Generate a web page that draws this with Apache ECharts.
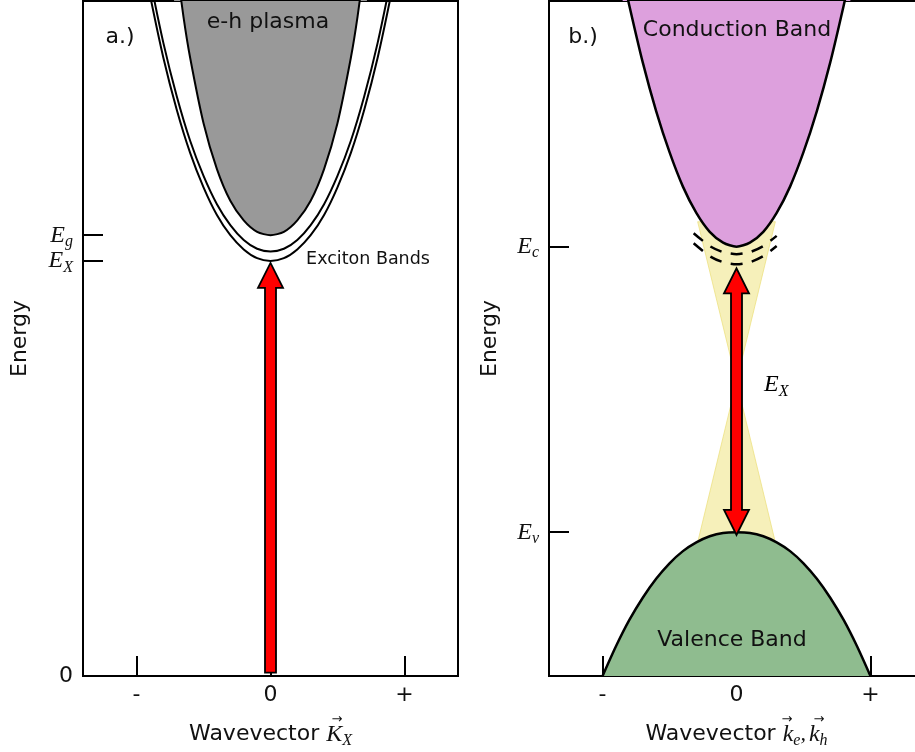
<!DOCTYPE html>
<html><head><meta charset="utf-8">
<script src="https://cdn.jsdelivr.net/npm/echarts@6/dist/echarts.min.js"></script>
<style>html,body{margin:0;padding:0;background:#fff}#c{width:915px;height:752px}</style>
</head><body><div id="c"></div>
<script>
// ---- tick values / labels ----
const kTicks = [-1, 0, 1];
const kTickLabels = ['-', '0', '+'];
const leftYTicks = [0, 6.15];
const leftYTickLabels = ['0', '{e|E}{s|X}'];
const gapTicks = [6.53];
const gapTickLabels = ['{e|E}{s|g}'];
const rightYTicks = [2.13, 6.36];
const rightYTickLabels = ['{e|E}{s|v}', '{e|E}{s|c}'];

// ---- panel a) curves [k, E] ----
const plasmaCurve = [[-0.72,10.80],[-0.65,9.77],[-0.6,9.16],[-0.5,8.19],[-0.4,7.51],[-0.3,7.04],[-0.2,6.75],[-0.1,6.58],[0,6.53],[0.1,6.58],[0.2,6.75],[0.3,7.04],[0.4,7.51],[0.5,8.19],[0.6,9.16],[0.65,9.77],[0.72,10.80]];
const excitonBand1 = [[-0.95,10.87],[-0.9,10.33],[-0.8,9.38],[-0.7,8.59],[-0.6,7.93],[-0.5,7.41],[-0.4,6.99],[-0.3,6.68],[-0.2,6.46],[-0.1,6.33],[0,6.29],[0.1,6.33],[0.2,6.46],[0.3,6.68],[0.4,6.99],[0.5,7.41],[0.6,7.93],[0.7,8.59],[0.8,9.38],[0.9,10.33],[0.95,10.87]];
const excitonBand2 = [[-0.95,10.62],[-0.9,10.09],[-0.8,9.16],[-0.7,8.39],[-0.6,7.75],[-0.5,7.24],[-0.4,6.83],[-0.3,6.53],[-0.2,6.32],[-0.1,6.19],[0,6.15],[0.1,6.19],[0.2,6.32],[0.3,6.53],[0.4,6.83],[0.5,7.24],[0.6,7.75],[0.7,8.39],[0.8,9.16],[0.9,10.09],[0.95,10.62]];
const arrowA = [[0, 0.05, 6.12]];

// ---- panel b) curves [k, E] ----
const conductionBand = [[-0.85,10.39],[-0.8,9.93],[-0.7,9.09],[-0.6,8.37],[-0.5,7.76],[-0.4,7.25],[-0.3,6.86],[-0.2,6.58],[-0.1,6.42],[0,6.36],[0.1,6.42],[0.2,6.58],[0.3,6.86],[0.4,7.25],[0.5,7.76],[0.6,8.37],[0.7,9.09],[0.8,9.93],[0.85,10.39]];
const valenceBand = [[-1,0],[-0.9,0.44],[-0.8,0.83],[-0.7,1.16],[-0.6,1.44],[-0.5,1.67],[-0.4,1.85],[-0.3,1.98],[-0.2,2.07],[-0.1,2.12],[0,2.13],[0.1,2.12],[0.2,2.07],[0.3,1.98],[0.4,1.85],[0.5,1.67],[0.6,1.44],[0.7,1.16],[0.8,0.83],[0.9,0.44],[1,0]];
const excitonLevel1 = [[-0.32,6.56],[-0.2,6.37],[-0.1,6.28],[0,6.25],[0.1,6.28],[0.2,6.37],[0.3,6.52]];
const excitonLevel2 = [[-0.32,6.41],[-0.2,6.22],[-0.1,6.13],[0,6.10],[0.1,6.13],[0.2,6.22],[0.3,6.37]];
const coneUpper = [-0.29,6.73, 0.29,6.73, 0,4.36];
const coneLower = [-0.29,1.98, 0.29,1.98, 0,4.36];
const arrowB = [[0, 2.09, 6.04]];

const sans = 'DejaVu Sans';
const serif = 'Liberation Serif';
const mathRich = {
  e: {fontFamily: serif, fontStyle: 'italic', fontSize: 24, color: '#111'},
  s: {fontFamily: serif, fontStyle: 'italic', fontSize: 16, color: '#111', padding: [13, 0, 0, 0]},
  t: {fontFamily: sans, fontSize: 22, color: '#111'},
  v: {fontFamily: serif, fontStyle: 'italic', fontSize: 24, color: '#111'},
  c: {fontFamily: serif, fontStyle: 'italic', fontSize: 22, color: '#111', padding: [0, 3, 0, 0]}
};

function pick(vals, labels) {
  return function (v) {
    for (let i = 0; i < vals.length; i++) if (Math.abs(vals[i] - v) < 1e-6) return labels[i];
    return '';
  };
}

function arrowRender(double) {
  return function (params, api) {
    const k = api.value(0), e0 = api.value(1), e1 = api.value(2);
    const p0 = api.coord([k, e0]), p1 = api.coord([k, e1]);
    const x = p0[0], yb = p0[1], yt = p1[1];
    const sw = 5.5, hw = 12.5, hl = 25;
    let pts;
    if (!double) {
      pts = [[x - sw, yb], [x - sw, yt + hl], [x - hw, yt + hl], [x, yt], [x + hw, yt + hl], [x + sw, yt + hl], [x + sw, yb]];
    } else {
      pts = [[x - sw, yb - hl], [x - sw, yt + hl], [x - hw, yt + hl], [x, yt], [x + hw, yt + hl], [x + sw, yt + hl], [x + sw, yb - hl], [x + hw, yb - hl], [x, yb], [x - hw, yb - hl]];
    }
    return {type: 'polygon', shape: {points: pts}, style: {fill: '#ff0000', stroke: '#000', lineWidth: 1.8}};
  };
}
function coneRender(params, api) {
  const pts = [];
  for (let i = 0; i < 3; i++) pts.push(api.coord([api.value(2 * i), api.value(2 * i + 1)]));
  return {type: 'polygon', shape: {points: pts}, style: {fill: 'rgba(240,230,140,0.6)', stroke: 'rgba(235,222,120,0.7)', lineWidth: 1}};
}

function xAxisDef(idx, name) {
  return {
    gridIndex: idx, type: 'value', min: -1.4, max: 1.4,
    axisLine: {show: true, onZero: false, lineStyle: {color: '#000', width: 2}},
    axisTick: {show: true, inside: true, length: 20, customValues: kTicks, lineStyle: {color: '#000', width: 2}},
    axisLabel: {show: true, hideOverlap: false, customValues: kTicks, formatter: pick(kTicks, kTickLabels), fontSize: 22, fontFamily: sans, color: '#111', margin: 8},
    splitLine: {show: false},
    name: name, nameLocation: 'middle', nameGap: 44,
    nameTextStyle: {rich: mathRich, fontSize: 22, fontFamily: sans, color: '#111'}
  };
}
function yAxisDef(idx, ticks, labels, gap, withLine) {
  const ax = {
    gridIndex: idx, type: 'value', min: 0, max: 10, position: 'left',
    axisLine: {show: withLine, onZero: false, lineStyle: {color: '#000', width: 2}},
    axisTick: {show: true, inside: true, length: 20, customValues: ticks, lineStyle: {color: '#000', width: 2}},
    axisLabel: {show: true, hideOverlap: false, showMinLabel: true, showMaxLabel: true, customValues: ticks, formatter: pick(ticks, labels), rich: mathRich, fontSize: 22, fontFamily: sans, color: '#111', margin: 10},
    splitLine: {show: false}
  };
  if (gap) {
    ax.name = 'Energy'; ax.nameLocation = 'middle'; ax.nameGap = gap;
    ax.nameTextStyle = {fontSize: 22, fontFamily: sans, color: '#111'};
  }
  return ax;
}

const lineBase = {type: 'line', smooth: 0.25, symbol: 'none', clip: true, silent: true};
const gridBase = {top: 1, width: 375, height: 675, show: true, borderColor: '#000', borderWidth: 2,
  backgroundColor: 'transparent', containLabel: false, outerBoundsMode: 'none'};

const option = {
  backgroundColor: '#fff',
  animation: false,
  grid: [
    Object.assign({left: 83}, gridBase),
    Object.assign({left: 549}, gridBase)
  ],
  xAxis: [
    xAxisDef(0, '{t|Wavevector }{v|K}{s|X}'),
    xAxisDef(1, '{t|Wavevector }{v|k}{s|e}{c|,}{v|k}{s|h}')
  ],
  yAxis: [
    yAxisDef(0, leftYTicks, leftYTickLabels, 52, true),
    yAxisDef(1, rightYTicks, rightYTickLabels, 48, true),
    yAxisDef(0, gapTicks, gapTickLabels, 0, false)
  ],
  series: [
    Object.assign({}, lineBase, {xAxisIndex: 0, yAxisIndex: 0, data: plasmaCurve, z: 2,
      lineStyle: {color: '#000', width: 2}, areaStyle: {color: '#999999', opacity: 1, origin: 'end'}}),
    Object.assign({}, lineBase, {xAxisIndex: 0, yAxisIndex: 0, data: excitonBand1, z: 3, lineStyle: {color: '#000', width: 2}}),
    Object.assign({}, lineBase, {xAxisIndex: 0, yAxisIndex: 0, data: excitonBand2, z: 3, lineStyle: {color: '#000', width: 2}}),
    {type: 'custom', xAxisIndex: 0, yAxisIndex: 0, data: arrowA, renderItem: arrowRender(false), encode: {x: 0, y: [1, 2]}, z: 5, silent: true},

    {type: 'custom', xAxisIndex: 1, yAxisIndex: 1, data: [coneUpper, coneLower], renderItem: coneRender, encode: {x: [0, 2, 4], y: [1, 3, 5]}, z: 1, silent: true},
    Object.assign({}, lineBase, {xAxisIndex: 1, yAxisIndex: 1, data: conductionBand, z: 3,
      lineStyle: {color: '#000', width: 2.5}, areaStyle: {color: '#dda0dd', opacity: 1, origin: 'end'}}),
    Object.assign({}, lineBase, {xAxisIndex: 1, yAxisIndex: 1, data: valenceBand, z: 3,
      lineStyle: {color: '#000', width: 2.5}, areaStyle: {color: '#8fbc8f', opacity: 1, origin: 'start'}}),
    Object.assign({}, lineBase, {xAxisIndex: 1, yAxisIndex: 1, data: excitonLevel1, z: 4, lineStyle: {color: '#000', width: 2.5, type: [12, 9.5]}}),
    Object.assign({}, lineBase, {xAxisIndex: 1, yAxisIndex: 1, data: excitonLevel2, z: 4, lineStyle: {color: '#000', width: 2.5, type: [12, 9.5]}}),
    {type: 'custom', xAxisIndex: 1, yAxisIndex: 1, data: arrowB, renderItem: arrowRender(true), encode: {x: 0, y: [1, 2]}, z: 5, silent: true}
  ],
  graphic: [
    {type: 'text', x: 120, y: 37, z: 10, style: {text: 'a.)', font: '22px "DejaVu Sans"', fill: '#111', align: 'center', verticalAlign: 'middle'}},
    {type: 'text', x: 583, y: 37, z: 10, style: {text: 'b.)', font: '22px "DejaVu Sans"', fill: '#111', align: 'center', verticalAlign: 'middle'}},
    {type: 'text', x: 268, y: 22, z: 10, style: {text: 'e-h plasma', font: '22px "DejaVu Sans"', fill: '#111', align: 'center', verticalAlign: 'middle'}},
    {type: 'text', x: 368, y: 259, z: 10, style: {text: 'Exciton Bands', font: '17.5px "DejaVu Sans"', fill: '#111', align: 'center', verticalAlign: 'middle'}},
    {type: 'text', x: 737, y: 30, z: 10, style: {text: 'Conduction Band', font: '22px "DejaVu Sans"', fill: '#111', align: 'center', verticalAlign: 'middle'}},
    {type: 'text', x: 732, y: 640, z: 10, style: {text: 'Valence Band', font: '22px "DejaVu Sans"', fill: '#111', align: 'center', verticalAlign: 'middle'}},
    {type: 'text', x: 764, y: 385, z: 10, style: {text: '{e|E}{s|X}', rich: mathRich, align: 'left', verticalAlign: 'middle'}},
    // vector arrows over the wavevector symbols
    {type: 'text', x: 337, y: 720, z: 10, style: {text: '\u2192', font: '13px "DejaVu Sans"', fill: '#111', align: 'center', verticalAlign: 'middle'}},
    {type: 'text', x: 787, y: 720, z: 10, style: {text: '\u2192', font: '13px "DejaVu Sans"', fill: '#111', align: 'center', verticalAlign: 'middle'}},
    {type: 'text', x: 819, y: 720, z: 10, style: {text: '\u2192', font: '13px "DejaVu Sans"', fill: '#111', align: 'center', verticalAlign: 'middle'}}
  ]
};

const chart = echarts.init(document.getElementById('c'), null, {renderer: 'canvas'});
chart.setOption(option);
</script>
</body></html>
